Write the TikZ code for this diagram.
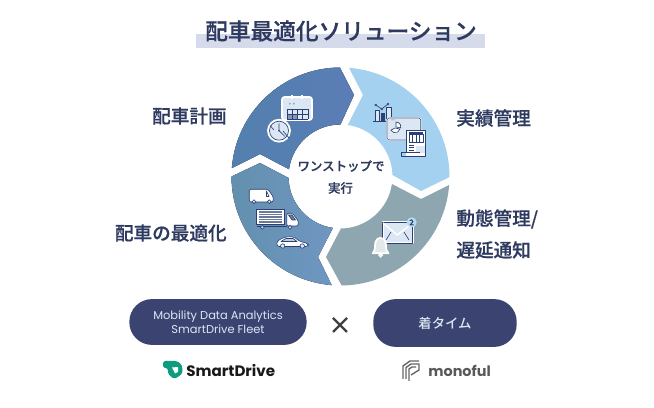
\documentclass[tikz,border=0pt]{standalone}
\usepackage{fontspec}
\setmainfont{Noto Sans CJK JP Medium}
\newfontfamily\jpstrong[FakeBold=0.5]{Noto Sans CJK JP Medium}
\newfontfamily\latinfont{Poppins}
\usetikzlibrary{positioning}
\definecolor{navy}{HTML}{2E3A5F}
\definecolor{pillblue}{HTML}{3B4371}
\definecolor{bandblue}{HTML}{D6DBEC}
\definecolor{darkseg}{HTML}{5A7DB5}
\definecolor{darksegleft}{HTML}{5380AE}
\definecolor{lightseg}{HTML}{A3D1EF}
\definecolor{greyseg}{HTML}{8EA6B0}
\definecolor{blueseg}{HTML}{6F96C2}
\definecolor{bluesegleft}{HTML}{6390AE}
\definecolor{drivegreen}{HTML}{0E9C80}
\definecolor{icondark}{HTML}{2B3F73}
\definecolor{iconpale}{HTML}{DCE7F4}
\tikzset{title/.style={font=\fontsize{12.9}{15}\selectfont\jpstrong,text=navy,inner sep=0pt},
		heading/.style={font=\fontsize{10.6}{13}\selectfont\jpstrong,text=navy,inner sep=0pt},
		hubtext/.style={font=\fontsize{7.1}{9}\selectfont\jpstrong,text=navy,inner sep=0pt},
		pill/.style={rectangle,rounded corners=12.9pt,fill=pillblue,text=iconpale,inner sep=0pt,align=center},
		halo/.style={draw=white,line width=1pt,line join=round},
		ink/.style={draw=icondark,line width=0.35pt,line join=round},
		wheel/.style={draw=icondark,fill=iconpale,line width=0.35pt}}
\begin{document}
\begin{tikzpicture}[x=0.02cm,y=-0.02cm]
		\useasboundingbox[fill=white] (0,0) rectangle (654,408);
		% title
		\fill[bandblue] (196,34) rectangle (485,48);
		\node[title] (title) at (341,31) {配車最適化ソリューション};

		% ring, coordinates relative to its centre
		\begin{scope}[shift={(340.5,176.5)}]
			\fill[left color=darksegleft,right color=darkseg] (-175.6:109) arc[start angle=-175.6,end angle=-90.3,radius=109]
				-- (13.5,-81.5) -- (-90:52) arc[start angle=-90,end angle=-172,radius=52]
				-- (-80.5,-22.5) -- cycle;
			\fill[lightseg] (-85.5:109) arc[start angle=-85.5,end angle=0.3,radius=109]
				-- (80.5,14.5) -- (-1.7:52) arc[start angle=-1.7,end angle=-82,radius=52]
				-- (22.5,-81.5) -- cycle;
			\fill[greyseg] (4.5:109) arc[start angle=4.5,end angle=89.4,radius=109]
				-- (-14.5,80.5) -- (89.5:52) arc[start angle=89.5,end angle=8.3,radius=52]
				-- (80.5,22.5) -- cycle;
			\fill[left color=bluesegleft,right color=blueseg] (180:109) arc[start angle=180,end angle=94.6,radius=109]
				-- (-22.5,80.5) -- (98.4:52) arc[start angle=98.4,end angle=178.4,radius=52]
				-- (-80.5,-13.5) -- cycle;
		\end{scope}
		\node[hubtext] (hubtop) at (341,166) {ワンストップで};
		\node[hubtext] (hubbottom) at (340.5,188) {実行};

		% calendar and clock
		\draw[halo,fill=iconpale,rounded corners=1.5pt] (282,97) rectangle (312,120);
		\draw[white,line width=0.7pt] (292,95) -- (292,99) (302,95) -- (302,99);
		\fill[icondark!55] (287,114) rectangle (297.5,119.5);
		\foreach \px in {287,292.25,297.5,302.75,308}
			\draw[ink] (\px,109) -- (\px,119.5);
		\foreach \py in {109,114.25,119.5}
			\draw[ink] (287,\py) -- (308,\py);
		\fill[icondark!50] (289,103) rectangle (290.5,104.5) (293,103) rectangle (294.5,104.5);
		\draw[halo,fill=iconpale] (279,130.7) circle[radius=11];
		\draw[ink] (279,130.7) circle[radius=9.5];
		\draw[ink] (279,123.5) -- (279,130.7) -- (285,136.5);
		\draw[ink] (270,125.5) -- (274,130) (283,131) -- (289,138);
		\fill[icondark] (279,130.7) circle[radius=0.9];

		% bars, window and report
		\fill[iconpale] (375,110) rectangle (379,121) (386.7,107) rectangle (391,121);
		\fill[icondark] (380.7,113) rectangle (385,121);
		\draw[ink] (375,110) rectangle (379,121) (386.7,107) rectangle (391,121);
		\draw[ink] (373,121.2) -- (392,121.2);
		\draw[ink] (375.7,105) -- (381.7,109) -- (388,104);
		\foreach \px/\py in {375.7/105,381.7/109,388/104}
			\draw[ink,fill=lightseg] (\px,\py) circle[radius=1];
		\draw[halo,fill=iconpale,rounded corners=1pt] (387,118) rectangle (420.7,140);
		\draw[ink,rounded corners=1pt] (387,118) rectangle (420.7,140);
		\fill[icondark] (392,119.8) circle[radius=0.5] (394,119.8) circle[radius=0.5];
		\draw[ink,fill=white] (396,127) -- (396,122) arc[start angle=-90,end angle=10,radius=5] -- cycle;
		\draw[ink,fill=white] (395,128) -- (400,129) arc[start angle=15,end angle=150,radius=5] -- cycle;
		\draw[halo,fill=white] (406.7,130.7) rectangle (425,156);
		\fill[iconpale] (416,146) rectangle (425,153);
		\draw[ink] (406.7,152) -- (406.7,130.7) -- (425,130.7) -- (425,156.7) -- (401.7,156.7) -- (401.7,152) -- (420,152);
		\fill[icondark] (409,132.5) rectangle (423,134.5);
		\draw[ink] (409,134.5) rectangle (423,142.3);
		\foreach \px in {412.5,416,419.5}
			\draw[ink] (\px,134.5) -- (\px,142.3);
		\draw[ink] (409,145) -- (414,145) (409,147.5) -- (414,147.5) (409,150) -- (414,150);

		% envelope and bell
		\draw[halo,fill=iconpale] (382.7,222.3) rectangle (412.7,243.3);
		\draw[ink] (382.7,222.3) rectangle (412.7,243.3);
		\draw[white,line width=0.8pt] (383,223) -- (397.3,235) -- (412.5,223);
		\draw[ink] (386,240) -- (391,232) (409,240) -- (404,232);
		\fill[lightseg!80!white] (411.7,222.3) circle[radius=5];
		\node[inner sep=0pt,text=navy,font=\fontsize{4.5}{5}\selectfont\jpstrong] (badge) at (411.7,222.3) {2};
		\draw[halo,fill=greyseg!25!white] (372.7,253.3) .. controls (376,250) and (374.5,245) .. (375.5,242)
			.. controls (376.5,236.5) and (384.5,236.5) .. (385.5,242)
			.. controls (386.5,245) and (385,250) .. (388.5,253.3) -- cycle;
		\draw[white,line width=0.8pt] (380.7,255.2) circle[radius=1.6];

		% van, truck and car
		\draw[ink,fill=white,rounded corners=0.8pt] (249.3,202) -- (249.3,189.3) -- (268,189.3)
			-- (273.3,197) -- (273.3,202) -- cycle;
		\draw[ink] (266.5,191) -- (269,196.5) -- (266.5,196.5) -- cycle;
		\draw[wheel] (254,201.7) circle[radius=1.9] (269.3,201.7) circle[radius=1.9];
		\draw[ink,fill=white] (256.7,209) rectangle (284,224);
		\foreach \py in {212,214.5,217,219.5,222}
			\draw[draw=icondark!70,line width=0.7pt] (259,\py) -- (282,\py);
		\draw[ink,fill=white,rounded corners=0.8pt] (286.7,226) -- (286.7,213.3) -- (292.5,213.3)
			-- (298.3,221) -- (298.3,226) -- cycle;
		\draw[ink,fill=icondark!70] (288.5,215) -- (292,215) -- (295.5,220) -- (292,220) -- cycle;
		\draw[ink] (256.7,226) -- (286.7,226);
		\draw[wheel] (262.3,227.3) circle[radius=1.9] (290,227.3) circle[radius=1.9];
		\draw[ink,fill=white,rounded corners=1.5pt] (276.7,246.5) -- (277,241) -- (285,237) -- (293.5,236.7)
			-- (300,241.5) -- (308.3,243.5) -- (308.3,246.5) -- cycle;
		\draw[ink,fill=iconpale!70!blueseg] (281,241.5) -- (286,238.5) -- (293,238.5) -- (297,241.5) -- cycle;
		\draw[wheel] (282.7,246) circle[radius=2.2] (302.3,246) circle[radius=2.2];

		% segment labels
		\node[heading,anchor=east] (plan) at (227,116) {配車計画};
		\node[heading,anchor=west] (result) at (456,118) {実績管理};
		\node[heading,anchor=west] (tracking) at (456,219) {動態管理/};
		\node[heading,anchor=west] (delay) at (456,250) {遅延通知};
		\node[heading,anchor=east] (optimize) at (227,233) {配車の最適化};

		% products
		\node[pill,minimum width=178*0.567pt,minimum height=46*0.567pt,font=\fontsize{6.5}{8}\selectfont\latinfont] (fleet) at (218,322)
			{Mobility Data Analytics\\SmartDrive Fleet};
		\node[pill,minimum width=144*0.567pt,minimum height=48*0.567pt,font=\fontsize{7.6}{9}\selectfont] (chaku) at (445,323) {着タイム};
		\draw[black!75,line width=1.3pt] (333,318) -- (347,332) (347,318) -- (333,332);

		% logos
		\fill[drivegreen,rounded corners=1pt] (163,361) -- (173,361) .. controls (179,361) and (182.3,365) .. (182.3,370)
			.. controls (182.3,374) and (179,376.5) .. (174,379) -- (168,374) -- (168,368) -- (163,368) -- cycle;
		\fill[white] (172,367.5) -- (178,367) -- (178,372) -- (175,373.5) -- cycle;
		\node[inner sep=0pt,anchor=west,text=black!90,font=\fontsize{8.6}{11}\selectfont\latinfont\bfseries] (drive) at (186,371) {SmartDrive};
		\draw[black!60,line width=0.8pt] (403,379) -- (403,366) -- (410,361) -- (419,361)
			(406,379) -- (406,367.5) -- (411,364) -- (419,364) -- (419,370) -- (411,375)
			(409,381) -- (409,369) -- (412,367) -- (416,367);
		\node[inner sep=0pt,anchor=west,text=black!65,font=\fontsize{8.2}{11}\selectfont\latinfont\bfseries] (monoful) at (428,371) {monoful};
	\end{tikzpicture}
\end{document}
